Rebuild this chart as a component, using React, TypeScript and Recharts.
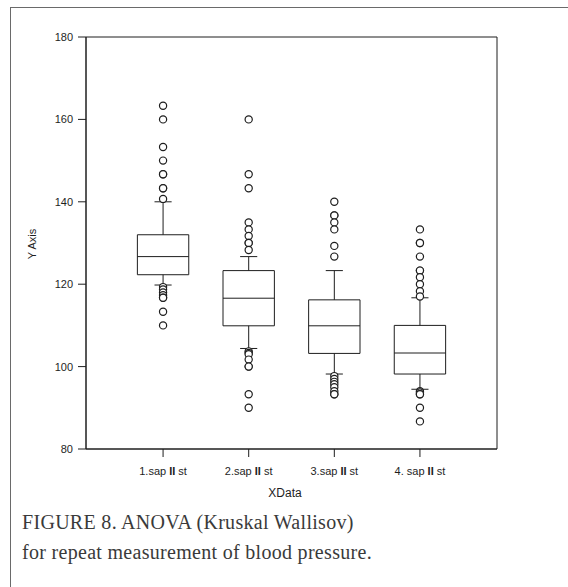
import React from "react";
import {
  ComposedChart,
  XAxis,
  YAxis,
  Scatter,
  ReferenceArea,
  ReferenceLine,
} from "recharts";

const categories = ["1.sap II st", "2.sap II st", "3.sap II st", "4. sap II st"];
const yTicks = [80, 100, 120, 140, 160, 180];

const whiskerLow = [119.8, 104.4, 98.2, 94.5];
const q1 = [122.3, 109.9, 103.2, 98.2];
const median = [126.7, 116.6, 109.9, 103.3];
const q3 = [132.0, 123.3, 116.2, 110.0];
const whiskerHigh = [140.0, 126.7, 123.3, 116.7];

const outliers1 = [163.3, 160, 153.3, 150, 146.7, 146.7, 143.3, 143.3, 140.7, 119.3, 118.7, 118, 117.3, 116.7, 116.7, 113.3, 110];
const outliers2 = [160, 146.7, 143.3, 135, 133.3, 131.7, 130, 130, 128.3, 103.7, 103.3, 103, 101.7, 100, 100, 93.3, 90];
const outliers3 = [140, 136.7, 136.7, 135, 133.3, 129.3, 126.7, 97.7, 97, 96.3, 95.7, 95, 94, 93.3, 93.3];
const outliers4 = [133.3, 130, 130, 126.7, 123.3, 123.3, 121.7, 120, 118.3, 117, 94, 93.7, 93.3, 93.3, 90, 86.7];

const outlierPoints = [outliers1, outliers2, outliers3, outliers4].flatMap((list, i) =>
  list.map((y) => ({ x: i + 1, y }))
);

const INK = "#1e1e1e";
const BOX_HALF = 0.3;
const CAP_HALF = 0.1;

function CategoryTick(props: any) {
  const { x, y, payload } = props;
  const label: string = categories[payload.value - 1] ?? "";
  const [before, after] = label.split("II");
  return (
    <text x={x} y={y + 16} textAnchor="middle" fontSize={11} fill={INK} fontFamily="Liberation Sans, Arial">
      <tspan>{before}</tspan>
      <tspan fontWeight="bold">II</tspan>
      <tspan>{after}</tspan>
    </text>
  );
}

const Ring = (props: any) => (
  <circle cx={props.cx} cy={props.cy} r={3.6} fill="#fff" stroke={INK} strokeWidth={1.2} />
);

export default function App() {
  return (
    <div style={{ position: "absolute", left: 0, top: 0, width: 568, height: 587, background: "#fff", overflow: "hidden" }}>
      <div
        style={{
          position: "absolute",
          left: 10,
          top: 7,
          right: 0,
          bottom: 0,
          borderLeft: "1.5px solid #6a6a6a",
          borderTop: "1.5px solid #6a6a6a",
        }}
      />
      <ComposedChart
        width={568}
        height={587}
        margin={{ top: 37, right: 71, bottom: 108, left: 0 }}
        style={{ position: "absolute", left: 0, top: 0 }}
      >
        <XAxis
          type="number"
          dataKey="x"
          domain={[0.1, 4.9]}
          ticks={[1, 2, 3, 4]}
          allowDataOverflow
          height={30}
          tickSize={8}
          tick={<CategoryTick />}
          tickLine={{ stroke: INK }}
          axisLine={{ stroke: INK }}
        />
        <YAxis
          type="number"
          dataKey="y"
          domain={[80, 180]}
          ticks={yTicks}
          width={86}
          tickSize={8}
          tickMargin={5}
          tick={{ fontSize: 11, fill: INK, fontFamily: "Liberation Sans, Arial" }}
          tickLine={{ stroke: INK }}
          axisLine={{ stroke: INK }}
        />
        <ReferenceArea x1={0.1} x2={4.9} y1={80} y2={180} fill="none" stroke={INK} strokeWidth={1} />
        {categories.map((c, i) => {
          const cx = i + 1;
          return (
            <React.Fragment key={c}>
              <ReferenceLine segment={[{ x: cx, y: whiskerLow[i] }, { x: cx, y: q1[i] }]} stroke={INK} />
              <ReferenceLine segment={[{ x: cx, y: q3[i] }, { x: cx, y: whiskerHigh[i] }]} stroke={INK} />
              <ReferenceLine segment={[{ x: cx - CAP_HALF, y: whiskerLow[i] }, { x: cx + CAP_HALF, y: whiskerLow[i] }]} stroke={INK} />
              <ReferenceLine segment={[{ x: cx - CAP_HALF, y: whiskerHigh[i] }, { x: cx + CAP_HALF, y: whiskerHigh[i] }]} stroke={INK} />
              <ReferenceArea
                x1={cx - BOX_HALF}
                x2={cx + BOX_HALF}
                y1={q1[i]}
                y2={q3[i]}
                fill="#fff"
                fillOpacity={1}
                stroke={INK}
                strokeWidth={1}
              />
              <ReferenceLine segment={[{ x: cx - BOX_HALF, y: median[i] }, { x: cx + BOX_HALF, y: median[i] }]} stroke={INK} />
            </React.Fragment>
          );
        })}
        <Scatter data={outlierPoints} shape={<Ring />} isAnimationActive={false} />
      </ComposedChart>
      <div
        style={{
          position: "absolute",
          left: 32,
          top: 244,
          transform: "translate(-50%, -50%) rotate(-90deg)",
          fontFamily: "Liberation Sans, Arial",
          fontSize: 11,
          color: INK,
          whiteSpace: "nowrap",
        }}
      >
        Y Axis
      </div>
      <div
        style={{
          position: "absolute",
          left: 285,
          top: 486,
          transform: "translateX(-50%)",
          fontFamily: "Liberation Sans, Arial",
          fontSize: 12,
          color: INK,
        }}
      >
        XData
      </div>
      <div
        style={{
          position: "absolute",
          left: 22,
          top: 507,
          fontFamily: "Liberation Serif, serif",
          fontSize: 20,
          letterSpacing: 0.3,
          lineHeight: "30px",
          color: "#3a3a3a",
          whiteSpace: "nowrap",
        }}
      >
        FIGURE 8. ANOVA (Kruskal Wallisov)
        <br />
        for repeat measurement of blood pressure.
      </div>
    </div>
  );
}
